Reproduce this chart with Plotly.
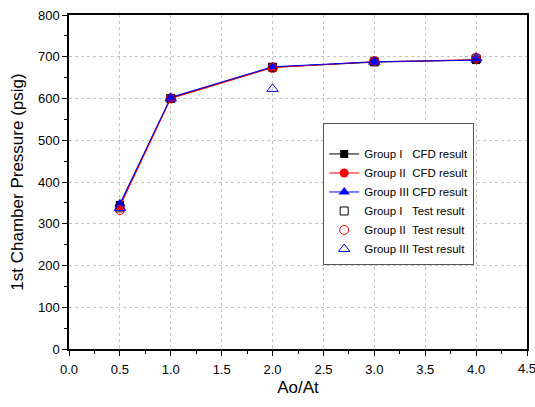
import plotly.graph_objects as go

x = [0.5, 1.0, 2.0, 3.0, 4.0]
g1_cfd = [345, 601, 675, 687, 692]
g2_cfd = [341, 600, 674, 688, 693]
g3_cfd = [348, 603, 676, 688, 692]
g1_test = [338, 600, 675, 688, 695]
g2_test = [333, 600, 673, 690, 698]
g3_test = [338, 600, 623, 688, 697]

names = ["Group I   CFD result", "Group II  CFD result", "Group III CFD result",
         "Group I   Test result", "Group II  Test result", "Group III Test result"]

fig = go.Figure()
fig.add_trace(go.Scatter(x=x, y=g1_cfd, mode="lines+markers", name=names[0],
                         line=dict(color="black", width=1),
                         marker=dict(symbol="square", size=8, color="black")))
fig.add_trace(go.Scatter(x=x, y=g2_cfd, mode="lines+markers", name=names[1],
                         line=dict(color="red", width=1),
                         marker=dict(symbol="circle", size=9, color="red")))
fig.add_trace(go.Scatter(x=x, y=g3_cfd, mode="lines+markers", name=names[2],
                         line=dict(color="blue", width=1),
                         marker=dict(symbol="triangle-up", size=10, color="blue")))
fig.add_trace(go.Scatter(x=x, y=g1_test, mode="markers", name=names[3],
                         marker=dict(symbol="square-open", size=8, color="black")))
fig.add_trace(go.Scatter(x=x, y=g2_test, mode="markers", name=names[4],
                         marker=dict(symbol="circle-open", size=9, color="red")))
fig.add_trace(go.Scatter(x=x, y=g3_test, mode="markers", name=names[5],
                         marker=dict(symbol="triangle-up-open", size=10, color="blue")))

axis_common = dict(showline=True, linecolor="black", linewidth=1.5, mirror=True,
                   ticks="outside", ticklen=5, tickcolor="black", zeroline=False,
                   showgrid=True, gridcolor="#c4c4c4", griddash="dot", gridwidth=1,
                   automargin=False,
                   tickfont=dict(family="Liberation Sans, Arial", size=13, color="black"))

fig.update_xaxes(range=[0, 4.5], dtick=0.5, tick0=0, tickformat=".1f",
                 ticklabelstandoff=3,
                 minor=dict(ticks="outside", ticklen=3, dtick=0.25, tickcolor="black", showgrid=False),
                 title=dict(text="Ao/At", font=dict(family="Liberation Sans, Arial", size=17, color="black"),
                            standoff=5),
                 **axis_common)
fig.update_yaxes(range=[0, 800], dtick=100, tick0=0,
                 minor=dict(ticks="outside", ticklen=3, dtick=50, tickcolor="black", showgrid=False),
                 title=dict(text="1st Chamber Pressure (psig)",
                            font=dict(family="Liberation Sans, Arial", size=17, color="black"),
                            standoff=10),
                 **axis_common)

# last x tick label (cut by the page edge, as in the original)
fig.add_annotation(x=4.5, xref="x", y=0, yref="paper", yanchor="top", xanchor="left",
                   xshift=-11, yshift=-10, text="4.5", showarrow=False,
                   font=dict(family="Liberation Sans, Arial", size=13, color="black"))

fig.update_layout(
    width=535, height=407,
    margin=dict(l=69, r=8, t=15, b=58),
    plot_bgcolor="white", paper_bgcolor="white",
    font=dict(family="Liberation Sans, Arial", color="black"),
    legend=dict(x=0.555, y=0.677, xanchor="left", yanchor="top",
                bgcolor="white", bordercolor="#555555", borderwidth=1,
                font=dict(size=11.5, color="black"),
                title=dict(text=" ", font=dict(size=12)),
                itemwidth=30, tracegroupgap=0),
    showlegend=True,
)

fig.write_html("out.html")
